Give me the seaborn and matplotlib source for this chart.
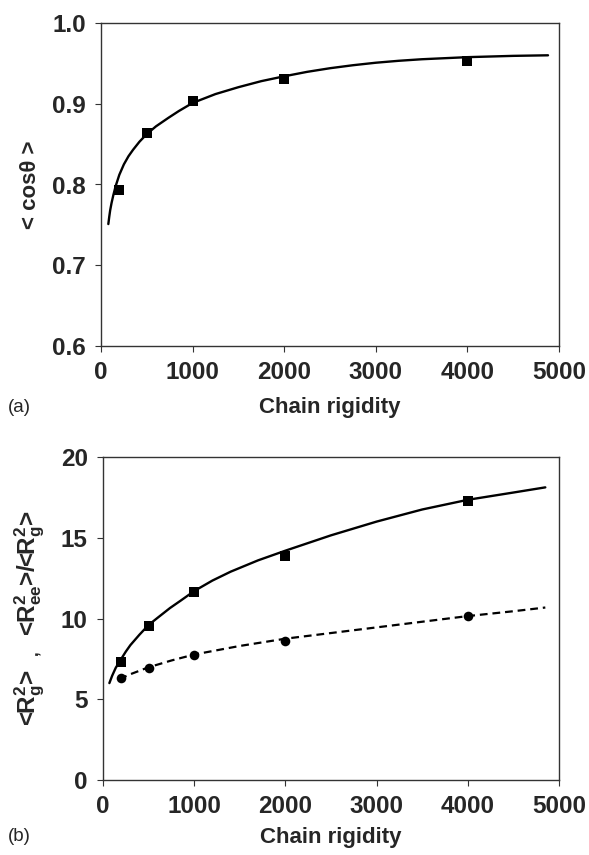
import numpy as np
import pandas as pd
import matplotlib
matplotlib.use("Agg")
import matplotlib.pyplot as plt
import seaborn as sns

sns.set_theme(style="white")
plt.rcParams['font.family'] = ['Liberation Sans', 'DejaVu Sans']
plt.rcParams['mathtext.fontset'] = 'custom'
plt.rcParams['mathtext.rm'] = 'Liberation Sans:bold'
plt.rcParams['mathtext.it'] = 'Liberation Sans:bold'
plt.rcParams['mathtext.bf'] = 'Liberation Sans:bold'

# ---- data: panel (a) ----
rigidity = [200, 500, 1000, 2000, 4000]
cos_theta = [0.793, 0.864, 0.903, 0.931, 0.953]
fit_a_x = [80, 90, 100, 115, 135, 160, 200, 250, 300, 350, 420, 500, 600, 735, 850,
           1000, 1250, 1500, 1750, 2000, 2250, 2500, 2750, 3000, 3250, 3500, 4000,
           4500, 4880]
fit_a_y = [0.751, 0.760, 0.768, 0.777, 0.787, 0.798, 0.812, 0.825, 0.835, 0.843, 0.853,
           0.8625, 0.872, 0.8825, 0.891, 0.901, 0.912, 0.9205, 0.928, 0.934, 0.9395,
           0.944, 0.9477, 0.9508, 0.9532, 0.9551, 0.9577, 0.9593, 0.960]

# ---- data: panel (b) ----
rg2 = [7.3, 9.55, 11.67, 13.9, 17.3]
ratio = [6.3, 6.96, 7.75, 8.6, 10.17]
fit_sq_x = [70, 100, 140, 200, 250, 300, 400, 500, 600, 735, 850, 1000, 1200, 1400,
            1700, 2000, 2500, 3000, 3500, 4000, 4500, 4850]
fit_sq_y = [6.0, 6.45, 6.95, 7.5, 7.95, 8.35, 9.0, 9.6, 10.05, 10.65, 11.1, 11.7, 12.35,
            12.9, 13.6, 14.2, 15.15, 16.0, 16.75, 17.35, 17.8, 18.12]
fit_ci_x = [180, 300, 500, 750, 1000, 1500, 2000, 2500, 3000, 3500, 4000, 4500, 4850]
fit_ci_y = [6.25, 6.55, 6.98, 7.4, 7.77, 8.3, 8.75, 9.1, 9.45, 9.8, 10.15, 10.45, 10.68]

x_ticks = [0, 1000, 2000, 3000, 4000, 5000]
ya_ticks = [0.6, 0.7, 0.8, 0.9, 1.0]
yb_ticks = [0, 5, 10, 15, 20]

fig = plt.figure(figsize=(5.89, 8.55), dpi=100)
W, H = 589, 855
ax1 = fig.add_axes([101 / W, 1 - 346 / H, 458 / W, 323 / H])
ax2 = fig.add_axes([103 / W, 1 - 780 / H, 456 / W, 323 / H])

tick_fs = 17.5
lab_fs = 16

# panel a
sns.lineplot(x=fit_a_x, y=fit_a_y, ax=ax1, color='black', lw=1.7, sort=False, estimator=None)
sns.scatterplot(x=rigidity, y=cos_theta, ax=ax1, marker='s', s=48, color='black',
                edgecolor='black', linewidth=0, zorder=3)
ax1.set_xlim(0, 5000)
ax1.set_ylim(0.6, 1.0)
ax1.set_yticks(ya_ticks)
ax1.set_yticklabels([f"{v:.1f}" for v in ya_ticks])
ax1.set_ylabel("< cos\u03b8 >", fontsize=lab_fs, fontweight='bold')
ax1.set_xlabel("Chain rigidity", fontsize=lab_fs, fontweight='bold')

# panel b
sns.lineplot(x=fit_sq_x, y=fit_sq_y, ax=ax2, color='black', lw=1.7, sort=False, estimator=None)
sns.lineplot(x=fit_ci_x, y=fit_ci_y, ax=ax2, color='black', lw=1.6, sort=False,
             estimator=None, dashes=False, linestyle=(0, (3.5, 2.2)))
sns.scatterplot(x=rigidity, y=rg2, ax=ax2, marker='s', s=48, color='black',
                edgecolor='black', linewidth=0, zorder=3)
sns.scatterplot(x=rigidity, y=ratio, ax=ax2, marker='o', s=48, color='black',
                edgecolor='black', linewidth=0, zorder=3)
ax2.set_xlim(0, 5000)
ax2.set_ylim(0, 20)
ax2.set_yticks(yb_ticks)
ax2.set_ylabel(r"<R$_\mathrm{g}^\mathrm{2}$>  $_,$  <R$_\mathrm{ee}^\mathrm{2}$>/<R$_\mathrm{g}^\mathrm{2}$>",
               fontsize=17.5, fontweight='bold')
ax2.set_xlabel("Chain rigidity", fontsize=lab_fs, fontweight='bold')

for ax in (ax1, ax2):
    ax.set_xticks(x_ticks)
    for side in ['top', 'right', 'left', 'bottom']:
        ax.spines[side].set_visible(True)
        ax.spines[side].set_color('#333333')
        ax.spines[side].set_linewidth(1.0)
    ax.tick_params(axis='both', direction='out', length=4, width=0.8, color='#333333',
                   labelsize=tick_fs, pad=7, left=True, bottom=True)
    for lbl in ax.get_xticklabels() + ax.get_yticklabels():
        lbl.set_fontweight('bold')
    ax.grid(False)
    ax.set_facecolor('white')
    ax.yaxis.label.set_verticalalignment('center')
    ax.xaxis.label.set_verticalalignment('center')

ax1.yaxis.set_label_coords((31 - 101) / 458, 0.5)
ax2.yaxis.set_label_coords((30 - 103) / 456, 0.5)
ax1.xaxis.set_label_coords(0.5, (346 - 407) / 323)
ax2.xaxis.set_label_coords(0.5, (780 - 837) / 323)

fig.text(8 / W, 1 - 407 / H, "(a)", fontsize=13.5, va='center', ha='left')
fig.text(8 / W, 1 - 836 / H, "(b)", fontsize=13.5, va='center', ha='left')

fig.savefig("out.png", dpi=100, facecolor='white')
